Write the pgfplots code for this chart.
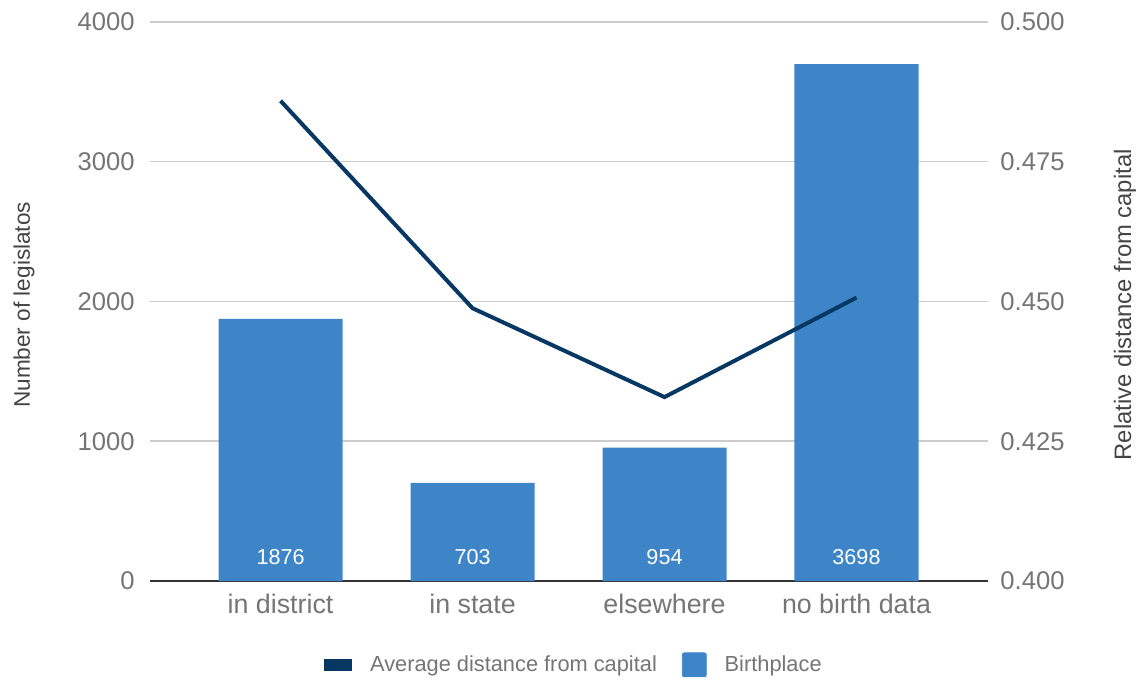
\documentclass[border=0pt]{standalone}
\usepackage{pgfplots}
\usepackage{pgfplotstable}
\pgfplotsset{compat=1.18}
\usepackage{fontspec}
\setmainfont{Liberation Sans}

\definecolor{barblue}{HTML}{3D85C6}
\definecolor{linenavy}{HTML}{073763}
\definecolor{gridgray}{HTML}{CCCCCC}
\definecolor{ticktext}{HTML}{757575}
\definecolor{titletext}{HTML}{444444}
\definecolor{baseline}{HTML}{333333}

% birthplace groups: number of legislators and mean relative distance from the capital
\pgfplotstableread{
x count dist
0 1876 0.4859
1 703  0.4488
2 954  0.4329
3 3698 0.4507
}\birth

\begin{document}
\begin{tikzpicture}
\useasboundingbox (0,0) rectangle (571.5pt,339.5pt);
\pgfplotsset{
  common/.style={
    at={(75pt,49pt)}, anchor=south west,
    scale only axis, width=419pt, height=279.5pt,
    xmin=-0.68, xmax=3.685,
    major tick length=0pt,
    /pgf/number format/assume math mode=true,
    /pgf/number format/1000 sep={},
    scaled y ticks=false,
    tick label style={ticktext, font=\fontsize{12.8}{14}\selectfont},
    y axis line style={draw=none},
  }
}
\begin{axis}[
  common,
  ymin=0, ymax=4000,
  ytick={0,1000,2000,3000,4000},
  xtick={0,1,2,3},
  xticklabels={in district, in state, elsewhere, no birth data},
  xticklabel style={font=\fontsize{13.4}{15}\selectfont, yshift=-3pt},
  axis x line*=bottom, axis y line*=left,
  x axis line style={-, draw=baseline, line width=0.8pt},
  ymajorgrids, grid style={gridgray, line width=0.75pt},
  yticklabel style={xshift=-4.2pt},
  ylabel={Number of legislatos},
  ylabel style={at={(axis description cs:-0.1504,0.494)}, anchor=center,
    rotate=0, text=titletext, font=\fontsize{11.3}{13}\selectfont},
]
\addplot[ybar, bar width=62pt, fill=barblue, draw=none] table[x=x, y=count] {\birth};
\addplot[draw=none, mark=none, nodes near coords, point meta=\thisrow{count},
  every node near coord/.style={anchor=center, yshift=12pt, text=white,
    font=\fontsize{10.8}{12}\selectfont}]
  table[x=x, y expr=0] {\birth};
\end{axis}
\begin{axis}[
  common,
  ymin=0.4, ymax=0.5,
  ytick={0.4,0.425,0.45,0.475,0.5},
  /pgf/number format/fixed, /pgf/number format/fixed zerofill,
  /pgf/number format/precision=3,
  axis y line*=right, axis x line=none,
  yticklabel style={xshift=2.7pt},
  ylabel={Relative distance from capital},
  ylabel style={at={(axis description cs:1.1635,0.494)}, anchor=center,
    rotate=0, text=titletext, font=\fontsize{11.9}{14}\selectfont},
  legend columns=2,
  legend style={at={(axis description cs:0.507,-0.150)}, anchor=center,
    draw=none, fill=none, text=ticktext, font=\fontsize{10.9}{12}\selectfont,
    /tikz/every odd column/.append style={column sep=7pt},
    /tikz/every even column/.append style={column sep=10.5pt}},
]
\addplot[linenavy, line width=2pt, mark=none,
  legend image code/.code={\fill[linenavy] (0pt,-2pt) rectangle (12pt,2pt);}]
  table[x=x, y=dist] {\birth};
\addlegendentry{Average distance from capital}
\addlegendimage{legend image code/.code={\fill[barblue, rounded corners=1pt] (0pt,-6pt) rectangle (12pt,6pt);}}
\addlegendentry{Birthplace}
\end{axis}
\end{tikzpicture}
\end{document}
